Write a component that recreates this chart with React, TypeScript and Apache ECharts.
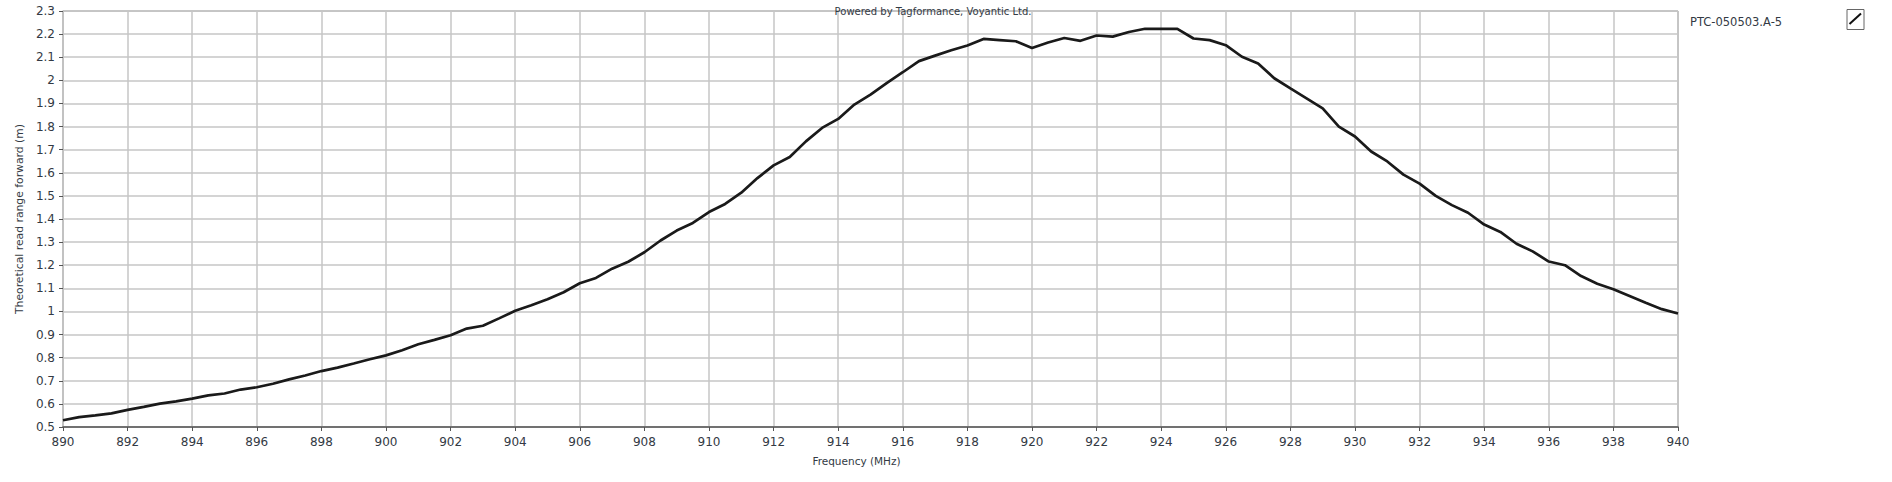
import React, { useEffect, useRef } from "react";
import * as echarts from "echarts";

const seriesName = "PTC-050503.A-5";
const chartTitle = "Powered by Tagformance, Voyantic Ltd.";
const xAxisName = "Frequency (MHz)";
const yAxisName = "Theoretical read range forward (m)";

const frequencies = [
  890, 890.5, 891, 891.5, 892, 892.5, 893, 893.5, 894, 894.5,
  895, 895.5, 896, 896.5, 897, 897.5, 898, 898.5, 899, 899.5,
  900, 900.5, 901, 901.5, 902, 902.5, 903, 903.5, 904, 904.5,
  905, 905.5, 906, 906.5, 907, 907.5, 908, 908.5, 909, 909.5,
  910, 910.5, 911, 911.5, 912, 912.5, 913, 913.5, 914, 914.5,
  915, 915.5, 916, 916.5, 917, 917.5, 918, 918.5, 919, 919.5,
  920, 920.5, 921, 921.5, 922, 922.5, 923, 923.5, 924, 924.5,
  925, 925.5, 926, 926.5, 927, 927.5, 928, 928.5, 929, 929.5,
  930, 930.5, 931, 931.5, 932, 932.5, 933, 933.5, 934, 934.5,
  935, 935.5, 936, 936.5, 937, 937.5, 938, 938.5, 939, 939.5,
  940,
];

const readRange = [
  0.529, 0.543, 0.55, 0.559, 0.574, 0.587, 0.601, 0.611, 0.623, 0.637,
  0.645, 0.662, 0.672, 0.687, 0.706, 0.723, 0.742, 0.757, 0.775, 0.793,
  0.81, 0.832, 0.858, 0.877, 0.897, 0.926, 0.938, 0.97, 1.003, 1.027,
  1.053, 1.083, 1.122, 1.145, 1.185, 1.215, 1.256, 1.307, 1.35, 1.383,
  1.43, 1.465, 1.514, 1.577, 1.632, 1.668, 1.736, 1.794, 1.833, 1.895,
  1.938, 1.988, 2.035, 2.083, 2.107, 2.13, 2.151, 2.179, 2.174, 2.169,
  2.14, 2.164, 2.183, 2.171, 2.194, 2.189, 2.209, 2.223, 2.223, 2.223,
  2.181, 2.174, 2.152, 2.102, 2.073, 2.009, 1.965, 1.922, 1.879, 1.8,
  1.757, 1.692, 1.649, 1.592, 1.553, 1.5, 1.46, 1.427, 1.376, 1.344,
  1.293, 1.26, 1.216, 1.2, 1.153, 1.12, 1.096, 1.067, 1.038, 1.01,
  0.991,
];

const FONT = "DejaVu Sans";
const LABEL_COLOR = "#333a44";

export default function App() {
  const ref = useRef<HTMLDivElement>(null);

  useEffect(() => {
    document.body.style.margin = "0";
    if (!ref.current) return;
    const chart = echarts.init(ref.current, null, { renderer: "svg" });
    const data = frequencies.map((f, i) => [f, readRange[i]]);
    chart.setOption({
      animation: false,
      backgroundColor: "#ffffff",
      title: {
        text: chartTitle,
        left: 928,
        top: 1,
        textAlign: "center",
        textStyle: { fontFamily: FONT, fontSize: 10, fontWeight: "normal", color: LABEL_COLOR },
      },
      legend: {
        left: 1680,
        top: 11,
        icon: "none",
        itemWidth: 0,
        itemHeight: 0,
        data: [seriesName],
        selectedMode: false,
        textStyle: { fontFamily: FONT, fontSize: 11.5, color: LABEL_COLOR, padding: 0 },
      },
      grid: {
        left: 63,
        right: 214,
        top: 11,
        bottom: 55,
        show: true,
        borderColor: "#8a8a8a",
        borderWidth: 1,
      },
      xAxis: {
        type: "value",
        min: 890,
        max: 940,
        interval: 2,
        name: xAxisName,
        nameLocation: "middle",
        nameGap: 28,
        nameTextStyle: { fontFamily: FONT, fontSize: 10.5, color: LABEL_COLOR, padding: [0, 28, 0, 0] },
        axisLine: { show: true, onZero: false, lineStyle: { color: "#555", width: 1.5 } },
        axisTick: { show: true, length: 4, lineStyle: { color: "#555" } },
        axisLabel: { margin: 9, fontFamily: FONT, fontSize: 12, color: LABEL_COLOR },
        splitLine: { show: true, lineStyle: { color: "#c6c6c6", width: 1.5 } },
      },
      yAxis: {
        type: "value",
        min: 0.5,
        max: 2.3,
        interval: 0.1,
        name: yAxisName,
        nameLocation: "middle",
        nameGap: 35,
        nameTextStyle: { fontFamily: FONT, fontSize: 10.8, color: LABEL_COLOR },
        axisLine: { show: true, lineStyle: { color: "#c0c0c0", width: 1.5 } },
        axisTick: { show: true, length: 4, lineStyle: { color: "#555" } },
        axisLabel: {
          margin: 8,
          fontFamily: FONT,
          fontSize: 12,
          color: LABEL_COLOR,
          formatter: (v: number) => String(Math.round(v * 10) / 10),
        },
        splitLine: { show: true, lineStyle: { color: "#c6c6c6", width: 1.5 } },
      },
      graphic: [
        {
          type: "rect",
          shape: { x: 1847, y: 9.5, width: 17, height: 20 },
          style: { fill: "#ffffff", stroke: "#666", lineWidth: 1 },
        },
        {
          type: "line",
          shape: { x1: 1849.5, y1: 24, x2: 1861, y2: 13.5 },
          style: { stroke: "#111", lineWidth: 2 },
        },
      ],
      series: [
        {
          name: seriesName,
          type: "line",
          data,
          showSymbol: false,
          symbol: "none",
          lineStyle: { color: "#1a1a1a", width: 2.7 },
          itemStyle: { color: "#1a1a1a" },
        },
      ],
    });
    return () => chart.dispose();
  }, []);

  return <div ref={ref} style={{ width: 1892, height: 482 }} />;
}
